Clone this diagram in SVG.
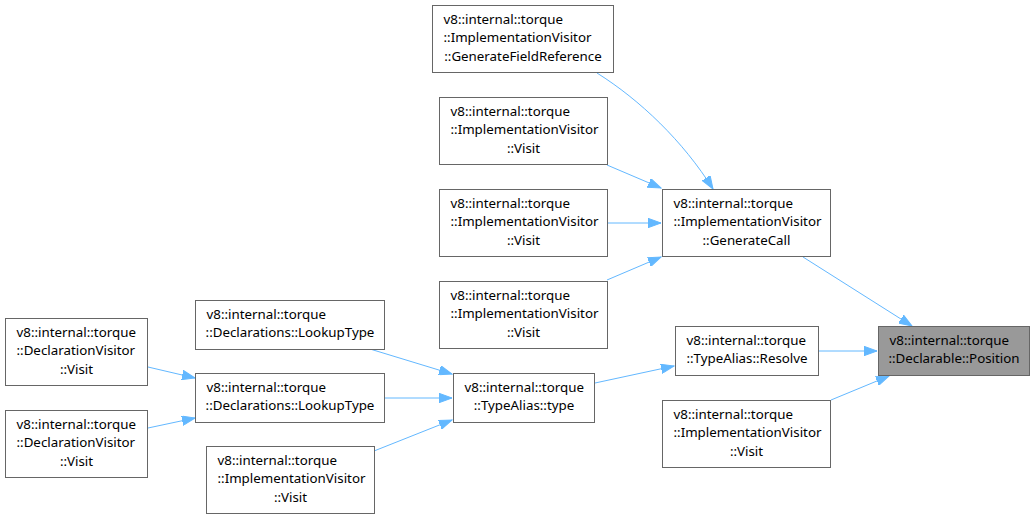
<svg xmlns="http://www.w3.org/2000/svg" width="1035" height="520" viewBox="0 0 1035 520">
<style>
.n rect{fill:#ffffff;stroke:#666666;stroke-width:1}
.n.hl rect{fill:#999999}
.n text{font-family:"Noto Sans","Open Sans","DejaVu Sans",sans-serif;font-size:13.33px;fill:#000000}
.n text.c{text-anchor:middle}
.e path{fill:none;stroke:#63b8ff;stroke-width:1;marker-end:url(#ah)}
</style>
<defs>
<marker id="ah" markerUnits="userSpaceOnUse" viewBox="0 0 14 10" markerWidth="14" markerHeight="10" refX="13" refY="5" orient="auto">
<path d="M0,0.3 L13,5 L0,9.7 z" fill="#63b8ff" stroke="#63b8ff" stroke-width="1"/>
</marker>
</defs>
<rect x="0" y="0" width="1035" height="520" fill="#ffffff"/>
<g id="edges" class="e">
<path d="M597,73 C640,100 683,141 713,189"/>
<path d="M607,165 L661,188"/>
<path d="M607,223 L661,223"/>
<path d="M607,280 L661,257"/>
<path d="M803,257 L912,326"/>
<path d="M819,351 L877,351"/>
<path d="M831,400 L889,376"/>
<path d="M595,383 L674,366"/>
<path d="M370,349 L452,374"/>
<path d="M384,398 L452,398"/>
<path d="M374,451 L452,420"/>
<path d="M148,367 L195,378"/>
<path d="M148,428 L195,418"/>
</g>
<g id="node-gfr" class="n">
<rect x="432.5" y="5.5" width="181" height="67"/>
<text x="443.5" y="23.5">v8::internal::torque</text>
<text x="443.5" y="42">::ImplementationVisitor</text>
<text class="c" x="523" y="60.5">::GenerateFieldReference</text>
</g>
<g id="node-visit1" class="n">
<rect x="439.5" y="97.5" width="168" height="67"/>
<text x="450.5" y="115.5">v8::internal::torque</text>
<text x="450.5" y="134">::ImplementationVisitor</text>
<text class="c" x="523.5" y="152.5">::Visit</text>
</g>
<g id="node-visit2" class="n">
<rect x="439.5" y="189.5" width="168" height="67"/>
<text x="450.5" y="207.5">v8::internal::torque</text>
<text x="450.5" y="226">::ImplementationVisitor</text>
<text class="c" x="523.5" y="244.5">::Visit</text>
</g>
<g id="node-visit3" class="n">
<rect x="439.5" y="281.5" width="168" height="67"/>
<text x="450.5" y="299.5">v8::internal::torque</text>
<text x="450.5" y="318">::ImplementationVisitor</text>
<text class="c" x="523.5" y="336.5">::Visit</text>
</g>
<g id="node-generatecall" class="n">
<rect x="662.5" y="189.5" width="168" height="67"/>
<text x="673.5" y="207.5">v8::internal::torque</text>
<text x="673.5" y="226">::ImplementationVisitor</text>
<text class="c" x="746.5" y="244.5">::GenerateCall</text>
</g>
<g id="node-resolve" class="n">
<rect x="675.5" y="326.5" width="143" height="49"/>
<text x="686.5" y="344.5">v8::internal::torque</text>
<text class="c" x="747" y="363">::TypeAlias::Resolve</text>
</g>
<g id="node-position" class="n hl">
<rect x="878.5" y="326.5" width="151" height="49"/>
<text x="889.5" y="344.5">v8::internal::torque</text>
<text class="c" x="954" y="363">::Declarable::Position</text>
</g>
<g id="node-visit4" class="n">
<rect x="662.5" y="400.5" width="168" height="67"/>
<text x="673.5" y="418.5">v8::internal::torque</text>
<text x="673.5" y="437">::ImplementationVisitor</text>
<text class="c" x="746.5" y="455.5">::Visit</text>
</g>
<g id="node-typealias-type" class="n">
<rect x="453.5" y="373.5" width="141" height="49"/>
<text x="464.5" y="391.5">v8::internal::torque</text>
<text class="c" x="524" y="410">::TypeAlias::type</text>
</g>
<g id="node-lookuptype1" class="n">
<rect x="195.5" y="300.5" width="189" height="49"/>
<text x="206.5" y="318.5">v8::internal::torque</text>
<text class="c" x="290" y="337">::Declarations::LookupType</text>
</g>
<g id="node-lookuptype2" class="n">
<rect x="195.5" y="373.5" width="189" height="49"/>
<text x="206.5" y="391.5">v8::internal::torque</text>
<text class="c" x="290" y="410">::Declarations::LookupType</text>
</g>
<g id="node-visit5" class="n">
<rect x="206.5" y="446.5" width="168" height="67"/>
<text x="217.5" y="464.5">v8::internal::torque</text>
<text x="217.5" y="483">::ImplementationVisitor</text>
<text class="c" x="290.5" y="501.5">::Visit</text>
</g>
<g id="node-declvisit1" class="n">
<rect x="5.5" y="318.5" width="142" height="67"/>
<text x="16.5" y="336.5">v8::internal::torque</text>
<text x="16.5" y="355">::DeclarationVisitor</text>
<text class="c" x="76.5" y="373.5">::Visit</text>
</g>
<g id="node-declvisit2" class="n">
<rect x="5.5" y="410.5" width="142" height="67"/>
<text x="16.5" y="428.5">v8::internal::torque</text>
<text x="16.5" y="447">::DeclarationVisitor</text>
<text class="c" x="76.5" y="465.5">::Visit</text>
</g>
</svg>
